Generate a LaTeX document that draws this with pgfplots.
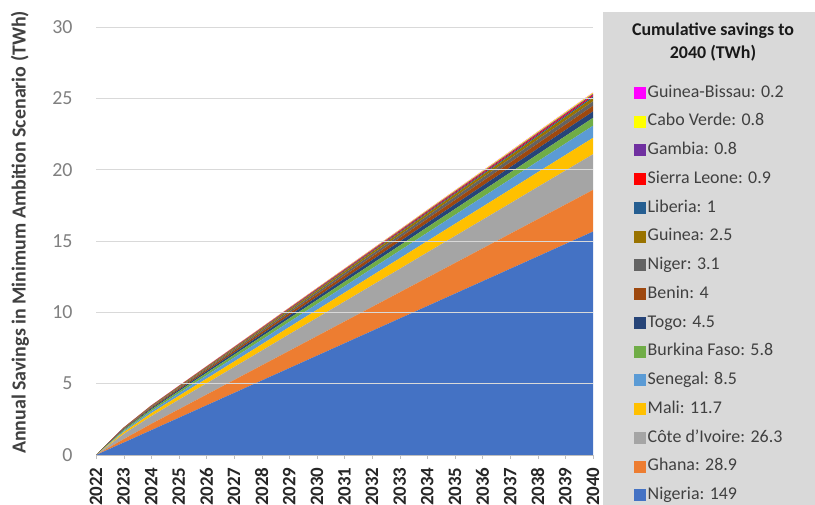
\documentclass[border=0pt]{standalone}
\usepackage{fontspec}
\setmainfont{Carlito}
\usepackage{pgfplots}
\usepackage{pgfplotstable}
\pgfplotsset{compat=1.18}

\definecolor{cNG}{HTML}{4472C4}
\definecolor{cGH}{HTML}{ED7D31}
\definecolor{cCI}{HTML}{A5A5A5}
\definecolor{cML}{HTML}{FFC000}
\definecolor{cSN}{HTML}{5B9BD5}
\definecolor{cBF}{HTML}{70AD47}
\definecolor{cTG}{HTML}{264478}
\definecolor{cBJ}{HTML}{9E480E}
\definecolor{cNE}{HTML}{636363}
\definecolor{cGN}{HTML}{997300}
\definecolor{cLR}{HTML}{255E91}
\definecolor{cSL}{HTML}{FF0000}
\definecolor{cGM}{HTML}{7030A0}
\definecolor{cCV}{HTML}{FFFF00}
\definecolor{cGW}{HTML}{FF00FF}
\definecolor{boxgray}{HTML}{D9D9D9}

% annual savings (TWh)
\pgfplotstableread{
year NG    GH    CI   ML    SN    BF    TG    BJ    NE    GN    LR    SL    GM    CV    GW
2022 0     0     0    0     0     0     0     0     0     0     0     0     0     0     0
2023 0.87  0.24  0.36 0.127 0.080 0.080 0.043 0.037 0.029 0.024 0.009 0.009 0.008 0.008 0.002
2024 1.74  0.44  0.54 0.208 0.139 0.121 0.074 0.065 0.051 0.041 0.016 0.015 0.013 0.013 0.003
2025 2.61  0.595 0.67 0.266 0.183 0.148 0.097 0.086 0.067 0.054 0.022 0.019 0.017 0.017 0.004
2026 3.48  0.75  0.79 0.325 0.228 0.175 0.121 0.107 0.083 0.067 0.027 0.024 0.021 0.021 0.005
2027 4.35  0.905 0.91 0.384 0.272 0.202 0.144 0.128 0.099 0.080 0.032 0.029 0.026 0.026 0.006
2028 5.22  1.06  1.03 0.443 0.316 0.228 0.168 0.149 0.116 0.093 0.037 0.034 0.030 0.030 0.008
2029 6.09  1.215 1.16 0.502 0.361 0.255 0.191 0.170 0.132 0.106 0.042 0.038 0.034 0.034 0.009
2030 6.96  1.37  1.28 0.560 0.405 0.282 0.215 0.191 0.148 0.119 0.048 0.043 0.038 0.038 0.010
2031 7.83  1.525 1.40 0.619 0.450 0.309 0.238 0.212 0.164 0.132 0.053 0.048 0.042 0.042 0.011
2032 8.70  1.68  1.52 0.678 0.494 0.336 0.262 0.233 0.180 0.145 0.058 0.052 0.047 0.047 0.012
2033 9.57  1.835 1.64 0.737 0.538 0.362 0.285 0.253 0.197 0.158 0.063 0.057 0.051 0.051 0.013
2034 10.44 1.99  1.77 0.796 0.583 0.389 0.309 0.274 0.213 0.172 0.069 0.062 0.055 0.055 0.014
2035 11.31 2.145 1.89 0.854 0.627 0.416 0.332 0.295 0.229 0.185 0.074 0.066 0.059 0.059 0.015
2036 12.18 2.30  2.01 0.913 0.672 0.443 0.356 0.316 0.245 0.198 0.079 0.071 0.063 0.063 0.016
2037 13.05 2.455 2.13 0.972 0.716 0.470 0.380 0.337 0.261 0.211 0.084 0.076 0.067 0.067 0.017
2038 13.92 2.61  2.26 1.031 0.760 0.496 0.403 0.358 0.278 0.224 0.090 0.081 0.072 0.072 0.018
2039 14.79 2.765 2.38 1.090 0.805 0.523 0.427 0.379 0.294 0.237 0.095 0.085 0.076 0.076 0.019
2040 15.66 2.92  2.50 1.149 0.849 0.550 0.450 0.400 0.310 0.250 0.100 0.090 0.080 0.080 0.020
}\savings

\begin{document}
\begin{tikzpicture}
\path[use as bounding box] (0,0) rectangle (815bp,505bp);
\fill[boxgray] (603bp,0) rectangle (815bp,493bp);
\node[font=\bfseries\fontsize{18}{23}\selectfont, align=center, text=black!90]
  at (713bp,463bp) {Cumulative savings to\\2040 (TWh)};
\begin{axis}[
    at={(96bp,50bp)}, anchor=south west,
    scale only axis, width=497bp, height=428bp,
    xmin=2022, xmax=2040, ymin=0, ymax=30,
    xtick={2022,...,2040}, ytick={0,5,...,30},
    axis x line*=bottom, axis y line*=left,
    x axis line style={draw=black!25},
    y axis line style={draw=none},
    ymajorgrids, grid style={draw=black!15, line width=0.8pt},
    tick align=outside, major tick length=4bp,
    x tick style={draw=black!25}, y tick style={draw=none},
    /pgf/number format/1000 sep={},
    /pgf/number format/assume math mode=true,
    xticklabel shift=5bp,
    xticklabel style={rotate=90, anchor=east, text=black!85,
      font=\bfseries\fontsize{19}{19}\selectfont},
    yticklabel style={text=black!50, font=\fontsize{20}{20}\selectfont, xshift=-16bp},
    ylabel={Annual Savings in Minimum Ambition Scenario (TWh)},
    ylabel style={at={(axis description cs:-0.153,0.52)}, anchor=center,
      text=black!75, font=\bfseries\fontsize{20}{20}\selectfont},
    stack plots=y, area style,
    reverse legend,
    legend cell align=left,
    legend image code/.code={\fill[#1] (0bp,-6bp) rectangle (12bp,6bp);},
    legend style={at={(axis description cs:1.0765,0.8738)}, anchor=north west,
      draw=none, fill=none, row sep=9.24bp, text=black!75,
      font=\fontsize{18}{18}\selectfont,
      nodes={inner sep=1.5bp, text height=12.5bp, text depth=4bp}},
]
\addplot[fill=cNG, draw=none] table[x=year, y=NG] {\savings} \closedcycle;
\addplot[fill=cGH, draw=none] table[x=year, y=GH] {\savings} \closedcycle;
\addplot[fill=cCI, draw=none] table[x=year, y=CI] {\savings} \closedcycle;
\addplot[fill=cML, draw=none] table[x=year, y=ML] {\savings} \closedcycle;
\addplot[fill=cSN, draw=none] table[x=year, y=SN] {\savings} \closedcycle;
\addplot[fill=cBF, draw=none] table[x=year, y=BF] {\savings} \closedcycle;
\addplot[fill=cTG, draw=none] table[x=year, y=TG] {\savings} \closedcycle;
\addplot[fill=cBJ, draw=none] table[x=year, y=BJ] {\savings} \closedcycle;
\addplot[fill=cNE, draw=none] table[x=year, y=NE] {\savings} \closedcycle;
\addplot[fill=cGN, draw=none] table[x=year, y=GN] {\savings} \closedcycle;
\addplot[fill=cLR, draw=none] table[x=year, y=LR] {\savings} \closedcycle;
\addplot[fill=cSL, draw=none] table[x=year, y=SL] {\savings} \closedcycle;
\addplot[fill=cGM, draw=none] table[x=year, y=GM] {\savings} \closedcycle;
\addplot[fill=cCV, draw=none] table[x=year, y=CV] {\savings} \closedcycle;
\addplot[fill=cGW, draw=none] table[x=year, y=GW] {\savings} \closedcycle;
\legend{Nigeria: 149, Ghana: 28.9, Côte d'Ivoire: 26.3, Mali: 11.7, Senegal: 8.5,
  Burkina Faso: 5.8, Togo: 4.5, Benin: 4, Niger: 3.1, Guinea: 2.5, Liberia: 1,
  Sierra Leone: 0.9, Gambia: 0.8, Cabo Verde: 0.8, Guinea-Bissau: 0.2}
\end{axis}
\end{tikzpicture}
\end{document}
